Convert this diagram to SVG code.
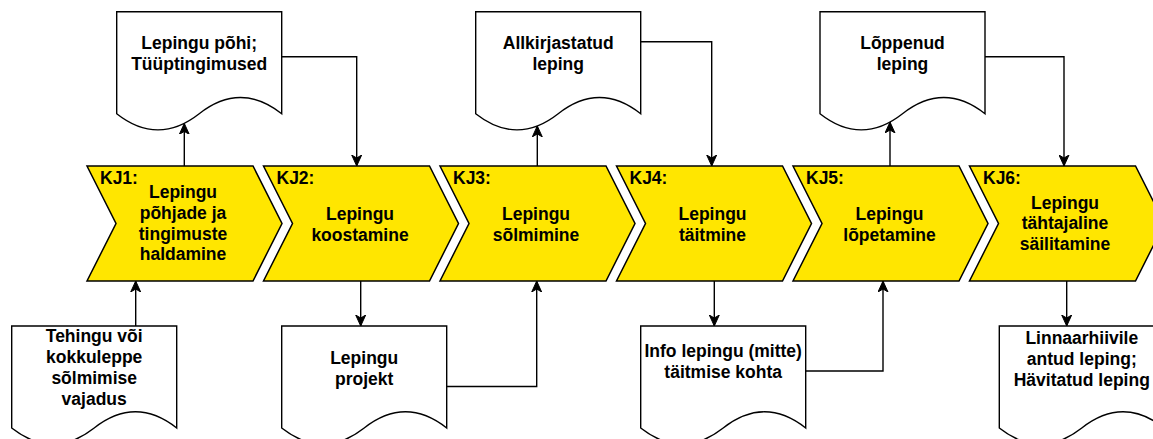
<svg xmlns="http://www.w3.org/2000/svg" width="1153" height="439" viewBox="0 0 1153 439">
<defs>
<style>
.step{fill:#ffe600;stroke:#000;stroke-width:1.5;stroke-linejoin:miter}
.doc{fill:#fff;stroke:#000;stroke-width:1.4}
.t{font-family:"Liberation Sans",Arial,sans-serif;font-weight:bold;font-size:17.5px;fill:#000;text-anchor:middle}
.lbl{font-family:"Liberation Sans",Arial,sans-serif;font-weight:bold;font-size:17.5px;fill:#000;text-anchor:start}
.edge{fill:none;stroke:#000;stroke-width:1.4;marker-end:url(#arr)}
</style>
<marker id="arr" viewBox="-11 -5.5 11 11" refX="0" refY="0" markerWidth="11" markerHeight="11" markerUnits="userSpaceOnUse" orient="auto">
<path d="M0,0 L-11,-5 L-8,0 L-11,5 Z" fill="#000" stroke="#000" stroke-width="1"/>
</marker>
<path id="docshape" d="M0,0 H165 V102 Q123.75,69.6 82.5,102 Q41.25,134.4 0,102 Z"/>
<path id="stepshape" d="M0,0 H166 L195,57.5 L166,115 H0 L29,57.5 Z"/>
</defs>

<g id="connectors">
<path class="edge" d="M281.7,56.7 H356.7 V166"/>
<path class="edge" d="M184.3,166 V123.4"/>
<path class="edge" d="M135.7,326 V281"/>
<path class="edge" d="M360.7,281 V326"/>
<path class="edge" d="M446.7,386.5 H536.7 V281"/>
<path class="edge" d="M537.3,166 V125.9"/>
<path class="edge" d="M640.7,41.7 H711.7 V166"/>
<path class="edge" d="M714.3,281 V326"/>
<path class="edge" d="M805.7,371 H883 V281"/>
<path class="edge" d="M890,166 V122"/>
<path class="edge" d="M985,56.7 H1064 V166"/>
<path class="edge" d="M1066.7,281 V326"/>
</g>

<g id="kj1">
<use href="#stepshape" class="step" transform="translate(87,166)"/>
<text class="lbl" x="100" y="183.5">KJ1:</text>
<text class="t" x="183"><tspan x="183" y="198.2">Lepingu</tspan><tspan x="183" y="218.9">põhjade ja</tspan><tspan x="183" y="239.6">tingimuste</tspan><tspan x="183" y="260.3">haldamine</tspan></text>
</g>
<g id="kj2">
<use href="#stepshape" class="step" transform="translate(263.5,166)"/>
<text class="lbl" x="276.5" y="183.5">KJ2:</text>
<text class="t"><tspan x="360" y="220.2">Lepingu</tspan><tspan x="360" y="240.9">koostamine</tspan></text>
</g>
<g id="kj3">
<use href="#stepshape" class="step" transform="translate(440,166)"/>
<text class="lbl" x="453" y="183.5">KJ3:</text>
<text class="t"><tspan x="536" y="220.2">Lepingu</tspan><tspan x="536" y="240.9">sõlmimine</tspan></text>
</g>
<g id="kj4">
<use href="#stepshape" class="step" transform="translate(616.5,166)"/>
<text class="lbl" x="629.5" y="183.5">KJ4:</text>
<text class="t"><tspan x="712.5" y="220.2">Lepingu</tspan><tspan x="712.5" y="240.9">täitmine</tspan></text>
</g>
<g id="kj5">
<use href="#stepshape" class="step" transform="translate(793,166)"/>
<text class="lbl" x="806" y="183.5">KJ5:</text>
<text class="t"><tspan x="889.5" y="220.2">Lepingu</tspan><tspan x="889.5" y="240.9">lõpetamine</tspan></text>
</g>
<g id="kj6">
<use href="#stepshape" class="step" transform="translate(969.5,166)"/>
<text class="lbl" x="983" y="183.5">KJ6:</text>
<text class="t"><tspan x="1065" y="208.5">Lepingu</tspan><tspan x="1065" y="229.2">tähtajaline</tspan><tspan x="1065" y="249.9">säilitamine</tspan></text>
</g>

<g id="doc-pohi">
<use href="#docshape" class="doc" transform="translate(116.7,11.7)"/>
<text class="t"><tspan x="199.2" y="49.3">Lepingu põhi;</tspan><tspan x="199.2" y="70">Tüüptingimused</tspan></text>
</g>
<g id="doc-allkirjastatud">
<use href="#docshape" class="doc" transform="translate(475.7,11.7)"/>
<text class="t"><tspan x="558.2" y="49.3">Allkirjastatud</tspan><tspan x="558.2" y="70">leping</tspan></text>
</g>
<g id="doc-loppenud">
<use href="#docshape" class="doc" transform="translate(820,11.7)"/>
<text class="t"><tspan x="902.5" y="49.3">Lõppenud</tspan><tspan x="902.5" y="70">leping</tspan></text>
</g>
<g id="doc-tehingu">
<use href="#docshape" class="doc" transform="translate(11.7,326)"/>
<text class="t"><tspan x="94.2" y="341.6">Tehingu või</tspan><tspan x="94.2" y="362.6">kokkuleppe</tspan><tspan x="94.2" y="383.6">sõlmimise</tspan><tspan x="94.2" y="404.6">vajadus</tspan></text>
</g>
<g id="doc-projekt">
<use href="#docshape" class="doc" transform="translate(281.7,326)"/>
<text class="t"><tspan x="364.2" y="364">Lepingu</tspan><tspan x="364.2" y="384.5">projekt</tspan></text>
</g>
<g id="doc-info">
<use href="#docshape" class="doc" transform="translate(640.7,326)"/>
<text class="t"><tspan x="723.2" y="357.3">Info lepingu (mitte)</tspan><tspan x="723.2" y="378">täitmise kohta</tspan></text>
</g>
<g id="doc-linnaarhiiv">
<use href="#docshape" class="doc" transform="translate(999.3,326)"/>
<text class="t"><tspan x="1081.8" y="344">Linnaarhiivile</tspan><tspan x="1081.8" y="365">antud leping;</tspan><tspan x="1081.8" y="386">Hävitatud leping</tspan></text>
</g>
</svg>
